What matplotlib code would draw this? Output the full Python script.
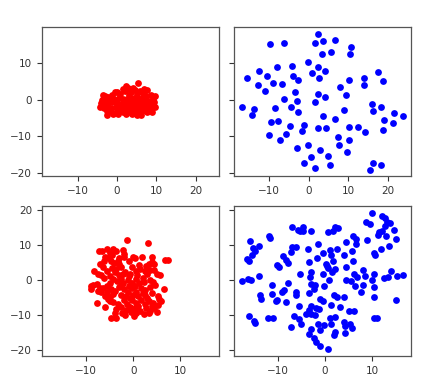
import numpy as np
import matplotlib
matplotlib.use("Agg")
import matplotlib.pyplot as plt

# top row: red (left) and blue (right) embeddings
top_red = [
    (5.3, 4.5), (2.3, 3.7), (2.8, 3.3), (1.4, 2.9), (0.0, 2.1), (4.6, 2.7), (5.8, 2.4),
    (7.7, 2.6), (6.6, 1.9), (3.6, 2.0), (8.5, 1.3), (-3.5, 1.2), (-2.4, 0.8), (-1.2, 1.2),
    (0.8, 1.5), (3.0, 1.2), (5.1, 1.6), (7.4, 1.1), (9.6, 0.9), (9.0, 0.2),
    (-3.8, 0.0), (-3.0, -0.3), (-2.0, 0.1), (-0.8, 0.3), (0.4, 0.5), (1.5, 0.2), (2.5, 0.1),
    (3.6, -0.2), (4.4, 0.6), (5.4, 0.2), (6.3, 0.5), (7.2, 0.0), (8.1, -0.3), (-4.0, -1.0),
    (-3.2, -1.4), (-2.2, -1.0), (-1.2, -0.6), (0.0, -0.8), (1.0, -1.1), (2.0, -0.7),
    (3.0, -1.3), (4.0, -1.0), (5.0, -0.8), (6.0, -1.0), (7.0, -1.2), (8.3, -1.4), (9.4, -0.6),
    (-4.3, -2.0), (-3.4, -2.4), (-2.5, -2.0), (-1.4, -2.2), (-0.3, -1.9), (0.8, -2.3),
    (1.8, -2.0), (2.7, -2.6), (3.8, -2.2), (4.8, -2.4), (5.8, -2.1), (6.8, -2.6), (7.8, -2.2),
    (9.6, -2.0), (-2.6, -3.0), (-1.6, -3.2), (0.0, -3.0), (1.4, -3.3), (3.4, -3.3),
    (4.3, -3.0), (5.3, -3.3), (6.4, -3.2), (7.5, -3.4), (8.9, -3.5), (-2.5, -4.1), (0.3, -4.0),
    (3.9, -3.8), (6.1, -4.1), (5.0, -4.2), (-3.0, 0.9), (8.7, -2.8), (2.3, -3.9), (-0.9, -4.0),
    (1.9, 2.4), (-0.6, 2.0), (4.0, 3.2), (6.9, 2.9),
]

top_blue = [
    (2.3, 18.2), (-9.9, 15.3), (-6.2, 15.6), (1.5, 15.7), (3.7, 16.1), (6.6, 16.3),
    (10.7, 14.6), (10.5, 12.7), (3.3, 12.5), (5.7, 13.1), (-0.3, 10.3), (-8.1, 9.1),
    (-4.3, 9.3), (2.4, 9.1), (-12.7, 7.9), (4.1, 7.9), (0.8, 7.3), (-10.5, 6.5), (-4.1, 6.6),
    (2.5, 6.1), (-15.6, 5.9), (17.5, 7.5), (13.9, 6.1), (-2.7, 5.3), (10.2, 5.3), (18.8, 5.1),
    (-9.1, 4.6), (-6.8, 4.3), (-12.9, 4.1), (14.1, 4.1), (7.8, 3.5), (-11.2, 2.3), (-3.4, 2.1),
    (2.3, 1.6), (9.5, 1.3), (4.1, 0.7), (-6.3, 0.2), (-2.9, -0.4), (1.6, -0.5), (16.1, -1.1),
    (-17.0, -2.1), (-14.0, -2.5), (-8.5, -2.4), (-4.6, -2.1), (18.2, -2.0), (-2.7, -3.4),
    (9.0, -2.9), (16.3, -3.2), (-14.4, -4.3), (3.5, -4.5), (21.5, -3.7), (23.9, -4.5),
    (6.6, -5.2), (19.1, -5.7), (-9.6, -6.2), (-7.8, -5.9), (-1.2, -6.9), (-4.8, -7.2),
    (21.4, -6.5), (2.4, -7.9), (4.4, -7.9), (10.1, -7.4), (12.4, -7.4), (14.2, -8.9),
    (18.9, -8.2), (-1.7, -8.7), (-10.1, -9.7), (-5.7, -9.5), (-7.3, -11.0), (7.5, -10.2),
    (10.1, -11.0), (-0.3, -12.5), (7.7, -12.5), (-3.0, -13.2), (2.9, -13.9), (9.7, -14.3),
    (4.8, -15.5), (0.6, -15.8), (-1.3, -17.4), (5.5, -17.9), (1.5, -18.7), (16.2, -17.5),
    (18.2, -17.9), (15.4, -19.2),
]

# bottom row
bottom_red = [
    (-1.4, 11.4), (3.2, 10.5), (7.4, 5.6), (6.8, 5.6), (6.5, -2.6), (-8.9, -1.8), (-9.0, -2.6),
    (-7.6, -6.5), (-5.9, -7.7), (-4.8, -10.7), (-3.6, -10.7), (-1.8, -10.0), (0.2, -10.2),
    (0.5, -9.5), (3.3, -9.5), (5.1, -9.1), (-8.3, 2.6), (-7.5, 1.8),
    (-7.3, 8.1), (-6.6, 8.2), (-5.6, 8.8), (-4.2, 8.7), (-3.7, 8.3), (-2.2, 8.4), (-6.0, 6.6),
    (-5.2, 6.3), (-4.5, 7.0), (-3.0, 6.2), (-2.0, 6.6), (0.0, 6.6), (0.4, 6.2), (1.8, 6.5),
    (4.0, 6.4), (3.9, 5.2), (3.3, 4.6), (2.7, 4.0), (4.5, 4.5),
    (-7.0, 4.6), (-6.5, 3.8), (-4.8, 5.3), (-4.0, 4.9), (-3.2, 5.5), (-4.5, 3.5), (-2.5, 3.8),
    (-1.8, 2.3), (-0.6, 1.8), (0.5, 2.5), (0.8, 1.5), (-3.8, 2.2), (-5.6, 2.5), (-6.8, 1.5),
    (2.5, 2.6), (3.5, 2.8), (4.4, 2.7), (5.0, 1.6), (5.6, 1.5), (3.0, 1.8), (1.5, 3.2),
    (-1.0, 5.3), (-0.2, 3.6),
    (-8.5, -1.5), (-7.8, -1.2), (-7.0, -2.3), (-6.4, -2.4), (-5.6, -1.6), (-5.0, -0.8),
    (-4.4, 0.3), (-3.5, -0.3), (-2.7, 0.4), (-2.2, -0.8), (-1.2, 0.0), (-0.3, -0.8), (0.6, 0.3),
    (1.2, -1.0), (2.0, 0.5), (3.5, 0.0), (4.2, -0.5), (-3.0, 1.5), (-1.0, 1.0), (-6.2, 0.5),
    (-6.0, -4.5), (-5.5, -3.5), (-4.8, -2.6), (-3.8, -3.0), (-3.0, -2.0), (-2.0, -2.6),
    (-1.2, -3.4), (-0.2, -2.4), (0.6, -3.5), (1.6, -2.2), (2.5, -2.8), (3.5, -2.1), (4.0, -3.6),
    (5.2, -4.5), (5.5, -5.3), (-7.5, -3.0), (-4.3, -4.0), (-2.6, -4.3), (1.0, -4.6), (2.6, -4.2),
    (-4.3, -6.3), (-3.3, -6.7), (-2.0, -5.8), (-1.3, -6.8), (-0.3, -5.6), (0.6, -6.5),
    (1.6, -5.7), (2.4, -6.9), (3.3, -6.1), (4.3, -6.6), (5.2, -7.0), (-3.6, -8.3), (-2.6, -7.8),
    (-1.6, -8.6), (-0.6, -7.6), (0.4, -8.1), (1.5, -8.8), (2.7, -8.1), (3.6, -8.9), (4.5, -8.0),
    (-3.8, -9.3), (-0.5, -9.2), (2.2, -9.7), (-5.0, -6.0), (-2.3, -9.5), (1.1, -7.4),
    (3.9, -7.5), (-0.1, -4.3), (-4.9, -4.8),
    (-6.8, -3.4), (-5.3, -5.5), (-3.6, 3.1), (-4.9, 1.2), (-2.2, 1.6), (1.3, 4.3), (2.2, -0.6),
    (-0.8, -1.6), (0.3, -1.6), (-1.6, -4.7), (3.0, -5.1), (4.7, -1.3), (-3.0, 4.4), (-6.3, 5.3),
    (-5.0, 7.6), (-0.7, -5.0), (2.0, -3.6), (-2.6, -1.3), (5.8, -6.1), (-1.9, 7.4),
]

bottom_blue = [
    (-15.9, 11.2), (-15.2, 9.2), (-14.1, 9.7), (-14.9, 8.1), (-15.4, 7.0), (-16.6, 5.9),
    (-16.1, 5.5), (-17.7, -0.2), (-16.4, 0.4), (-15.7, 0.0), (-14.0, 1.0), (-13.8, -4.4),
    (-13.5, -5.3), (-16.2, -10.3), (-15.0, -11.7), (-14.9, -12.2), (-11.9, 12.5), (-11.7, 11.9),
    (-12.1, -10.9), (-11.0, -10.8), (-11.2, -1.4), (-11.3, -4.1), (-10.1, -5.6), (-10.5, -6.0),
    (-9.2, -3.3), (-8.6, -2.9), (-7.9, -0.8), (-8.3, -6.2), (-10.2, 4.2), (-9.8, 3.6),
    (-8.9, 6.7), (-8.2, 5.8), (-7.9, 4.8), (-7.1, 9.5), (-6.2, 9.3), (-7.2, 7.9), (-6.9, 15.0),
    (-5.7, 14.1), (-4.7, 15.0), (-4.6, 14.0), (-5.3, 13.8), (-2.9, 13.8), (-5.3, 1.7),
    (-6.2, -3.4), (-6.2, -4.2), (-5.5, -7.5), (-6.5, -10.3), (-5.5, -11.0), (-5.0, -12.6),
    (-7.2, -13.4),
    (-3.6, 8.8), (-3.3, 5.2), (-1.5, 10.1), (-1.6, 6.3), (-0.4, 7.6), (0.2, 4.5), (0.4, 4.1),
    (-0.4, 1.8), (-3.0, 2.4), (-3.1, 0.8), (-2.9, -1.1), (-2.2, -1.3), (-2.4, -2.5),
    (-3.4, -3.6), (-0.1, -1.6), (0.9, 0.1), (-1.1, -5.4), (-0.5, -6.1), (-2.9, -7.3),
    (-2.0, -7.9), (-1.2, -8.3), (-3.4, -8.6), (-4.0, -9.8), (-3.0, -9.8), (-2.2, -10.1),
    (-1.5, -12.6), (-1.0, -14.1), (-0.1, -12.9), (-2.9, -13.9), (-3.4, -15.3), (-2.4, -16.4),
    (-2.0, -17.6), (-1.1, -18.9), (0.6, -19.7), (0.6, 13.7), (2.2, 15.0), (2.7, 14.7),
    (1.8, 13.8), (1.1, 8.6), (2.5, 8.9), (1.3, 7.2), (1.8, 5.3), (0.6, 3.4), (2.2, 3.1),
    (1.5, 2.4), (2.0, -4.2), (2.5, -4.8), (4.1, -4.8), (1.3, -7.0), (3.2, -7.8), (5.1, -8.7),
    (6.2, -8.9), (1.1, -10.8), (2.2, -10.4), (4.1, -11.9), (5.3, -12.5), (4.3, -13.1),
    (5.7, -13.7), (1.3, -12.5), (2.2, -14.8), (2.0, -15.7), (4.3, -15.0),
    (4.4, 10.8), (6.0, 12.4), (6.5, 11.7), (6.6, 10.3), (5.7, 8.3), (4.1, 7.2), (6.0, 5.5),
    (4.5, 3.8), (4.4, -0.1), (5.5, -0.4), (6.3, -1.6), (6.2, 1.8), (6.9, 0.8), (8.0, 2.7),
    (8.5, 1.2), (8.0, -1.3), (7.6, -3.3), (9.9, -0.1), (10.4, 1.8), (10.5, -2.0), (10.5, -4.8),
    (9.0, 11.4), (8.8, 16.5), (9.5, 15.8), (10.0, 19.0), (10.5, 7.8), (10.7, 7.2), (11.9, 8.7),
    (10.5, -10.8), (11.1, -10.8), (12.1, 18.2), (12.7, 17.5), (13.1, 16.4), (12.8, 15.4),
    (13.8, 16.3), (11.5, 13.6), (12.1, 14.0), (11.3, 12.9), (12.9, 12.6), (14.6, 14.1),
    (15.0, 11.6), (13.7, 9.7), (12.5, 0.5), (13.4, 0.8), (14.0, 2.6), (15.4, 1.0), (16.6, 1.5),
    (15.2, -5.6),
]

plt.rcParams['font.family'] = ['DejaVu Sans']
fig, axes = plt.subplots(2, 2, figsize=(4.36, 3.82), dpi=100, sharex='row', sharey='row')
fig.subplots_adjust(left=0.096, right=0.943, top=0.930, bottom=0.068, wspace=0.08, hspace=0.2)

panels = [(top_red, 'red'), (top_blue, 'blue'), (bottom_red, 'red'), (bottom_blue, 'blue')]
for ax, (pts, col) in zip(axes.flat, panels):
    pts = np.array(pts)
    ax.scatter(pts[:, 0], pts[:, 1], s=24, c=col, linewidths=0)
    ax.tick_params(labelsize=7.5, length=3.5, width=0.8, colors='#333333')
    for sp in ax.spines.values():
        sp.set_color('#555555')
        sp.set_linewidth(0.9)

axes[0, 0].set_xticks([-10, 0, 10, 20])
axes[0, 0].set_yticks([-20, -10, 0, 10])
axes[1, 0].set_xticks([-10, 0, 10])
axes[1, 0].set_yticks([-20, -10, 0, 10, 20])

fig.savefig("out.png", dpi=100)
